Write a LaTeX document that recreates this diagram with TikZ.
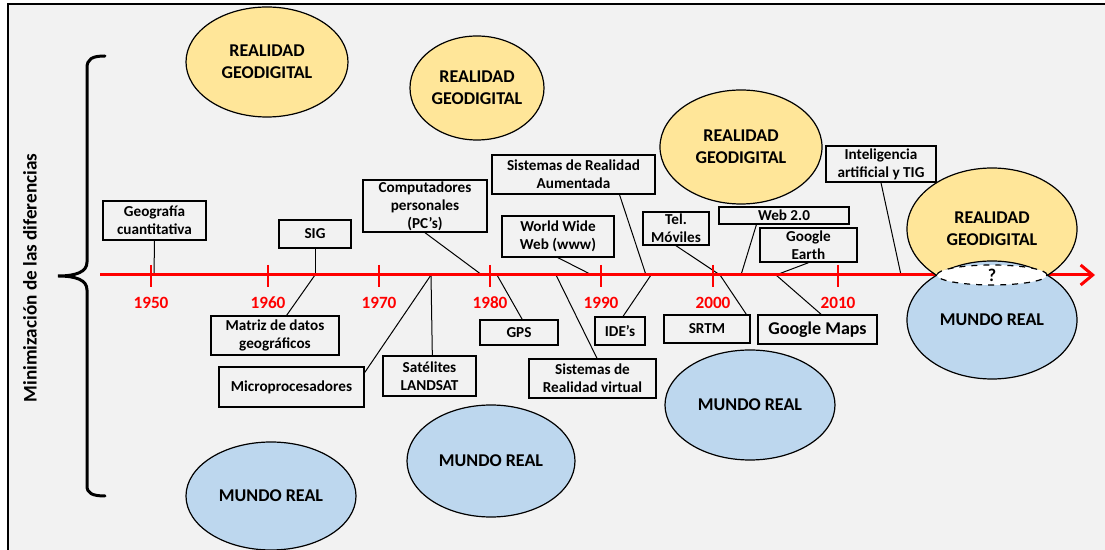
\documentclass[tikz,border=0pt]{standalone}
\usepackage{fontspec}
\setmainfont{Carlito}
\usetikzlibrary{shapes.geometric, arrows.meta, calc}

\definecolor{bggray}{HTML}{F2F2F2}
\definecolor{rgyellow}{HTML}{FFE699}
\definecolor{mrblue}{HTML}{BDD7EE}
\definecolor{tlred}{HTML}{FF0000}

\begin{document}
\begin{tikzpicture}[
        x=0.5pt, y=-0.5pt,
        boxsize/.style 2 args={minimum width=#1*0.5pt, minimum height=#2*0.5pt},
        event/.style={draw, line width=0.7pt, fill=bggray, inner sep=0pt, align=center,
            font=\fontsize{7.6}{9}\selectfont\bfseries},
        realidad/.style={draw, ellipse, line width=0.6pt, fill=rgyellow, inner sep=0pt,
            align=center, font=\fontsize{9}{11}\selectfont\bfseries},
        mundo/.style={realidad, fill=mrblue},
        conn/.style={line width=0.5pt},
        tick/.style={tlred, line width=1.2pt},
        year/.style={text=tlred, font=\fontsize{8.6}{10}\selectfont\bfseries}
    ]
        % Background
        \clip (0,0) rectangle (1105,550);
        \fill[white] (0,0) rectangle (1105,550);
        \draw[line width=1pt, fill=bggray] (8,4) rectangle (1115,560);

        % Brace and side label
        \draw[line width=1.5pt, line cap=round] (105,56) .. controls (92,56) and (87,59) .. (87,68)
            -- (87,262) .. controls (87,272) and (76,276) .. (58,276)
            .. controls (76,276) and (87,280) .. (87,290)
            -- (87,486) .. controls (87,493) and (92,496) .. (105,496);
        \node[rotate=90, font=\fontsize{9.6}{11}\selectfont\bfseries] (minim) at (30,278)
            {Minimización de las diferencias};

        % Points on the timeline
        \coordinate (tl-start) at (100,275);
        \coordinate (tl-end) at (1095,275);
        \coordinate (c-geo) at (154,275);
        \coordinate (c-sig) at (315,275);
        \coordinate (c-sat) at (431,275);
        \coordinate (c-pcs) at (482,275);
        \coordinate (c-gps) at (497,275);
        \coordinate (c-vir) at (556,275);
        \coordinate (c-www) at (592,275);
        \coordinate (c-aum) at (646,275);
        \coordinate (c-ide) at (651,275);
        \coordinate (c-mov) at (720,275);
        \coordinate (c-web) at (741,275);
        \coordinate (c-goo) at (776,275);
        \coordinate (c-ia) at (901,275);

        % Events
        \node[event, boxsize={103}{39}] (geo) at (154.5,220.5) {Geografía\\cuantitativa};
        \node[event, boxsize={72}{28}] (sig) at (315,234) {SIG};
        \node[event, boxsize={128}{39}] (matriz) at (275,335.5) {Matriz de datos\\geográficos};
        \node[event, boxsize={145}{40}] (micro) at (291.5,387) {Microprocesadores};
        \node[event, boxsize={93}{40}] (landsat) at (429.5,376) {Satélites\\LANDSAT};
        \node[event, boxsize={124}{52}] (pcs) at (425,206) {Computadores\\personales\\(PC’s)};
        \node[event, boxsize={78}{25}] (gps) at (519,332.5) {GPS};
        \node[event, boxsize={112}{41}] (www) at (558,236.5) {World Wide\\Web (www)};
        \node[event, boxsize={127}{39}] (virtual) at (592.5,378.5) {Sistemas de\\Realidad virtual};
        \node[event, boxsize={163}{39}] (aumentada) at (573.5,174.5) {Sistemas de Realidad\\Aumentada};
        \node[event, boxsize={50}{28}] (ides) at (620,331) {IDE’s};
        \node[event, boxsize={66}{33}] (moviles) at (676,228.5) {Tel.\\Móviles};
        \node[event, boxsize={86}{28}] (srtm) at (707,329) {SRTM};
        \node[event, boxsize={130}{17}] (web20) at (784,215.5) {Web 2.0};
        \node[event, boxsize={97}{34}] (earth) at (808.5,245) {Google\\Earth};
        \node[event, boxsize={119}{29}, font=\fontsize{9}{11}\selectfont\bfseries] (maps) at (817.5,329.5) {Google Maps};
        \node[event, boxsize={110}{36}] (ia) at (881,164) {Inteligencia\\artificial y TIG};

        % Connectors
        \draw[conn] (geo.south) -- (c-geo);
        \draw[conn] (sig.south) -- (c-sig);
        \draw[conn] ($(matriz.north west)!0.59!(matriz.north east)$) -- (c-sig);
        \draw[conn] ($(micro.north east)!0.15!(micro.south east)$) -- (c-sat);
        \draw[conn] ($(landsat.north west)!0.53!(landsat.north east)$) -- (c-sat);
        \draw[conn] (pcs.south) -- (c-pcs);
        \draw[conn] ($(gps.north west)!0.54!(gps.north east)$) -- (c-gps);
        \draw[conn] (www.south) -- (c-www);
        \draw[conn] ($(virtual.north west)!0.535!(virtual.north east)$) -- (c-vir);
        \draw[conn] ($(aumentada.south west)!0.78!(aumentada.south east)$) -- (c-aum);
        \draw[conn] ($(ides.north west)!0.56!(ides.north east)$) -- (c-ide);
        \draw[conn] (moviles.south) -- (c-mov);
        \draw[conn] ($(srtm.north west)!0.95!(srtm.north east)$) -- (c-mov);
        \draw[conn] ($(web20.south west)!0.29!(web20.south east)$) -- (c-web);
        \draw[conn] (earth.south) -- (c-goo);
        \draw[conn] ($(maps.north west)!0.53!(maps.north east)$) -- (c-goo);
        \draw[conn] (ia.south) -- (c-ia);

        % Timeline
        \draw[tlred, line width=1.5pt, -{Straight Barb[length=6pt, width=10pt]}] (tl-start) -- (tl-end);
        \foreach \yr/\px in {1950/151, 1960/268, 1970/379, 1980/490, 1990/601, 2000/713, 2010/838} {
            \draw[tick] (\px,265) -- (\px,287);
            \node[year] (y\yr) at (\px,303) {\yr};
        }

        % Realities
        \node[realidad, minimum width=81pt, minimum height=55pt] (rg1) at (267,62) {REALIDAD\\GEODIGITAL};
        \node[realidad, minimum width=67pt, minimum height=52pt] (rg2) at (477,88) {REALIDAD\\GEODIGITAL};
        \node[realidad, minimum width=81pt, minimum height=57pt] (rg3) at (741,147) {REALIDAD\\GEODIGITAL};
        \node[mundo, minimum width=85pt, minimum height=54pt] (mr1) at (271,496) {MUNDO REAL};
        \node[mundo, minimum width=84pt, minimum height=56pt] (mr2) at (491,461) {MUNDO REAL};
        \node[mundo, minimum width=85pt, minimum height=55pt] (mr3) at (750,405) {MUNDO REAL};
        \node[realidad, minimum width=85pt, minimum height=61pt] (rg4) at (992,229) {REALIDAD\\GEODIGITAL};
        \node[mundo, minimum width=85pt, minimum height=59pt] (mr4) at (992,320) {MUNDO REAL};
        \node[draw, ellipse, dashed, fill=white, line width=0.6pt, inner sep=0pt,
            minimum width=55pt, minimum height=10pt, font=\fontsize{9}{11}\selectfont\bfseries] (gap) at (992,275) {?};
    \end{tikzpicture}
\end{document}
